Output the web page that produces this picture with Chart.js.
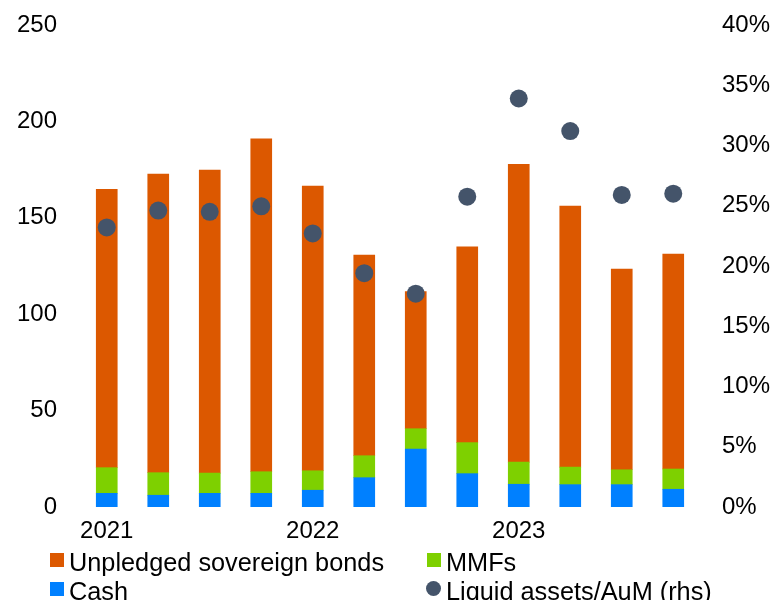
<!DOCTYPE html>
<html>
<head>
<meta charset="utf-8">
<script src="https://cdn.jsdelivr.net/npm/chart.js@4/dist/chart.umd.min.js"></script>
<style>
  html, body { margin: 0; padding: 0; background: #fff; }
  #wrap { position: relative; width: 775px; height: 600px; overflow: hidden; font-family: "Liberation Sans", Arial, sans-serif; }
  #c { position: absolute; left: 0; top: 0; }
  .lg { position: absolute; font-size: 25.3px; line-height: 25px; color: #000; white-space: nowrap; }
  .sw { position: absolute; width: 14px; height: 14px; }
  .dot { position: absolute; width: 15px; height: 15px; border-radius: 50%; }
</style>
</head>
<body>
<div id="wrap">
  <canvas id="c" width="775" height="600"></canvas>
  <div class="sw" style="left:50px;top:553px;background:#DC5800"></div>
  <div class="lg" style="left:69px;top:550px">Unpledged sovereign bonds</div>
  <div class="sw" style="left:427px;top:553px;background:#7ED000"></div>
  <div class="lg" style="left:446px;top:550px">MMFs</div>
  <div class="sw" style="left:50px;top:582px;background:#0080FF"></div>
  <div class="lg" style="left:69px;top:579px">Cash</div>
  <div class="dot" style="left:426px;top:581px;background:#44546A"></div>
  <div class="lg" style="left:446px;top:579px">Liquid assets/AuM (rhs)</div>
</div>
<script>
const categories = ['2021 Q1','2021 Q2','2021 Q3','2021 Q4','2022 Q1','2022 Q2','2022 Q3','2022 Q4','2023 Q1','2023 Q2','2023 Q3','2023 Q4'];
const cash = [7.1, 6.1, 7.1, 7.1, 8.7, 15.2, 30.1, 17.3, 11.8, 11.6, 11.6, 9.2];
const mmfs = [13.3, 11.7, 10.5, 11.2, 10.1, 11.4, 10.5, 16.1, 11.5, 9.1, 7.7, 10.5];
const bonds = [144.4, 154.9, 157.2, 172.6, 147.7, 104.1, 71.1, 101.5, 154.4, 135.4, 104.1, 111.5];
const liquidRatio = [23.2, 24.6, 24.5, 24.95, 22.7, 19.4, 17.7, 25.75, 33.9, 31.2, 25.9, 26.0];
const leftTicks = [0, 50, 100, 150, 200, 250];
const rightTicks = [0, 5, 10, 15, 20, 25, 30, 35, 40];

const FONT = { family: '"Liberation Sans", Arial, sans-serif', size: 24 };

new Chart(document.getElementById('c'), {
  type: 'bar',
  data: {
    labels: categories,
    datasets: [
      { label: 'Cash', data: cash, backgroundColor: '#0080FF', stack: 's', order: 1, barThickness: 21, yAxisID: 'y' },
      { label: 'MMFs', data: mmfs, backgroundColor: '#7ED000', stack: 's', order: 1, barThickness: 21, yAxisID: 'y' },
      { label: 'Unpledged sovereign bonds', data: bonds, backgroundColor: '#DC5800', stack: 's', order: 1, barThickness: 21, yAxisID: 'y' },
      { type: 'line', label: 'Liquid assets/AuM (rhs)', data: liquidRatio, showLine: false, pointRadius: 9, pointHoverRadius: 9,
        pointBackgroundColor: '#44546A', pointBorderWidth: 0, borderColor: '#44546A', backgroundColor: '#44546A', order: 0, yAxisID: 'y1' }
    ]
  },
  options: {
    responsive: false,
    animation: false,
    layout: { padding: { top: 25, bottom: 53, left: 0, right: 0 } },
    plugins: { legend: { display: false }, tooltip: { enabled: false } },
    scales: {
      x: {
        stacked: true,
        grid: { display: false, drawTicks: false },
        border: { display: false },
        ticks: {
          autoSkip: false, maxRotation: 0, minRotation: 0, color: '#000', font: FONT, padding: 10,
          callback: function(v, i) { const l = categories[i]; return l.endsWith('Q1') ? l.slice(0, 4) : ''; }
        },
        afterFit: function(s) { s.height = 40; s.paddingLeft = 0; s.paddingRight = 0; }
      },
      y: {
        stacked: true, position: 'left', min: 0, max: 250,
        grid: { display: false, drawTicks: false },
        border: { display: false },
        afterBuildTicks: function(s) { s.ticks = leftTicks.map(v => ({ value: v })); },
        ticks: { color: '#000', font: FONT, padding: 24 },
        afterFit: function(s) { s.width = 81; s.paddingTop = 0; s.paddingBottom = 0; }
      },
      y1: {
        position: 'right', min: 0, max: 40,
        grid: { display: false, drawTicks: false },
        border: { display: false },
        afterBuildTicks: function(s) { s.ticks = rightTicks.map(v => ({ value: v })); },
        ticks: { color: '#000', font: FONT, padding: 23, callback: v => v + '%' },
        afterFit: function(s) { s.width = 76; s.paddingTop = 0; s.paddingBottom = 0; }
      }
    }
  }
});
</script>
</body>
</html>
